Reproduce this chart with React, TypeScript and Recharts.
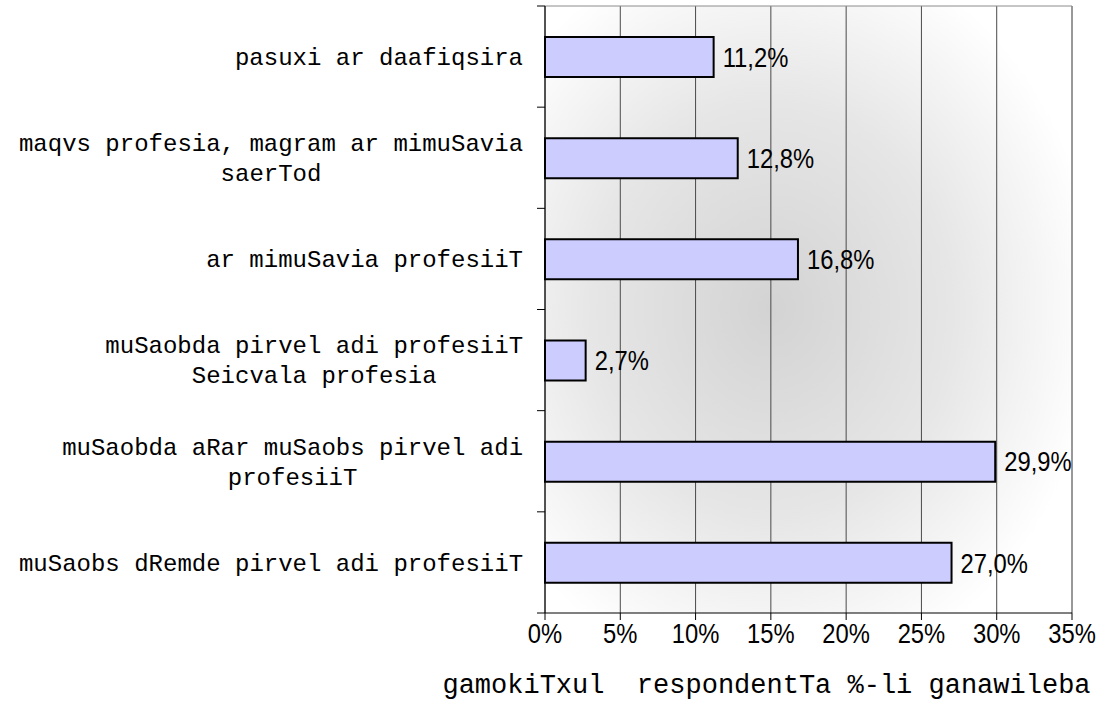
import {
  BarChart,
  Bar,
  XAxis,
  YAxis,
  CartesianGrid,
  LabelList,
  ReferenceLine,
  Label,
} from "recharts";

const categories = [
  "pasuxi ar daafiqsira",
  "maqvs profesia, magram ar mimuSavia\nsaerTod",
  "ar mimuSavia profesiiT",
  "muSaobda pirvel adi profesiiT\nSeicvala profesia",
  "muSaobda aRar muSaobs pirvel adi\nprofesiiT",
  "muSaobs dRemde pirvel adi profesiiT",
];

const shares = [11.2, 12.8, 16.8, 2.7, 29.9, 27.0];

const xTicks = [0, 5, 10, 15, 20, 25, 30, 35];
const axisTitle = "gamokiTxul  respondentTa %-li ganawileba";

const data = categories.map((name, i) => ({ name, share: shares[i] }));

const MONO = "'Liberation Mono', 'DejaVu Sans Mono', monospace";
const SANS = "'Liberation Sans', Arial, sans-serif";

const PLOT_H = 723 - 6 - 110;

function CategoryTick(props: any) {
  const { x, y, payload, index } = props;
  const lines = String(payload.value).split("\n");
  const widest = Math.max(...lines.map((l) => l.length));
  const cx = x - (widest * 14.4) / 2;
  const top = y - ((lines.length - 1) * 30) / 2;
  const half = payload.offset || PLOT_H / categories.length / 2;
  const axisX = x + 22;
  return (
    <g>
      <line x1={axisX - 8} x2={axisX} y1={y - half} y2={y - half} stroke="#000" />
      {index === categories.length - 1 && (
        <line x1={axisX - 8} x2={axisX} y1={y + half} y2={y + half} stroke="#000" />
      )}
      <text
        x={cx}
        y={top}
        textAnchor="middle"
        fontFamily={MONO}
        fontSize={24}
        fill="#000"
        style={{ whiteSpace: "pre" }}
      >
        {lines.map((l, i) => (
          <tspan key={i} x={cx} y={top + i * 30} dy="0.35em">
            {l}
          </tspan>
        ))}
      </text>
    </g>
  );
}

function PercentTick(props: any) {
  const { x, y, payload } = props;
  return (
    <text
      transform={`translate(${x},${y}) scale(0.85,1)`}
      textAnchor="middle"
      dy="0.71em"
      fontFamily={SANS}
      fontSize={28}
      fill="#000"
    >
      {`${payload.value}%`}
    </text>
  );
}

function ShareLabel(props: any) {
  const { x, y, width, height, value } = props;
  return (
    <text
      transform={`translate(${x + width + 9},${y + height / 2}) scale(0.85,1)`}
      dy="0.35em"
      fontFamily={SANS}
      fontSize={28}
      fill="#000"
    >
      {`${Number(value).toFixed(1).replace(".", ",")}%`}
    </text>
  );
}

function TitleLabel(props: any) {
  const vb = props.viewBox || {};
  return (
    <text
      x={vb.x + vb.width / 2 - 42}
      y={vb.y + 80}
      textAnchor="middle"
      fontFamily={MONO}
      fontSize={27}
      fill="#000"
      style={{ whiteSpace: "pre" }}
    >
      {axisTitle}
    </text>
  );
}

export default function App() {
  return (
    <div style={{ position: "absolute", left: 0, top: 0, background: "#fff" }}>
      <BarChart
        width={1120}
        height={723}
        data={data}
        layout="vertical"
        margin={{ top: 6, right: 48, bottom: 0, left: 0 }}
        barSize={40}
      >
        <defs>
          <radialGradient id="plotFill" cx="0.43" cy="0.5" r="0.62">
            <stop offset="0" stopColor="#d3d3d3" />
            <stop offset="0.55" stopColor="#e6e6e6" />
            <stop offset="1" stopColor="#ffffff" />
          </radialGradient>
        </defs>
        <CartesianGrid
          horizontal={false}
          stroke="#4a4a4a"
          fill="url(#plotFill)"
          fillOpacity={1}
          yAxisId="cat"
        />
        <CartesianGrid
          vertical={false}
          stroke="#8c8c8c"
          yAxisId="cat"
          horizontalCoordinatesGenerator={(p: any) => [p.offset.top]}
        />
        <XAxis
          type="number"
          domain={[0, 35]}
          ticks={xTicks}
          interval={0}
          height={110}
          stroke="#000"
          tickSize={7}
          tickMargin={3}
          tick={<PercentTick />}
        >
          <Label content={TitleLabel} />
        </XAxis>
        <YAxis
          yAxisId="cat"
          type="category"
          dataKey="name"
          width={545}
          interval={0}
          tickLine={false}
          tickSize={0}
          tickMargin={22}
          stroke="#000"
          tick={<CategoryTick />}
        />
        <ReferenceLine yAxisId="cat" x={35} stroke="#8c8c8c" />
        <Bar
          yAxisId="cat"
          dataKey="share"
          fill="#ccccff"
          stroke="#000"
          strokeWidth={2}
          isAnimationActive={false}
        >
          <LabelList dataKey="share" content={ShareLabel} />
        </Bar>
      </BarChart>
    </div>
  );
}
